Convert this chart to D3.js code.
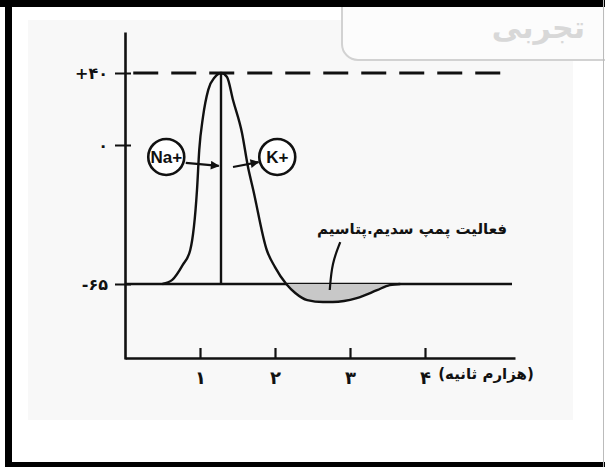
<!DOCTYPE html>
<html><head><meta charset="utf-8">
<script src="https://cdn.jsdelivr.net/npm/d3@7"></script>
<style>body{margin:0;background:#fff}svg{display:block}</style>
</head><body>
<script>
// ---- data ----
const timeMs   = [0.5, 0.63, 0.77, 0.87, 0.96, 0.99, 1.04, 1.11, 1.2, 1.28, 1.36, 1.44, 1.56, 1.64, 1.71, 1.89, 2.0, 2.15, 2.27, 2.43, 2.64, 2.77, 3.09, 3.36, 3.53, 3.67];
const voltage  = [-65, -63.1, -56.1, -49.1, -21, -2.3, 15.6, 30.6, 37.8, 40, 37.8, 25, 6.7, -10.3, -21, -49.1, -57.1, -65, -69.2, -72.5, -73.4, -73.4, -71.6, -67.9, -65.5, -65];
const xTicks = [1, 2, 3, 4];
const xTickLabels = ["۱", "۲", "۳", "۴"];
const yTicks = [40, 0, -65];
const yTickLabels = ["+۴۰", "۰", "-۶۵"];
const restingPotential = -65;
const peakPotential = 40;
const peakTime = 1.28;
const xUnitLabel = "(هزارم ثانیه)";
const pumpLabel = "فعالیت پمپ سدیم.پتاسیم";
const pumpPointerT = [2.87, 2.76, 2.73];
const pumpPointerV = [-45.4, -55.2, -67.8];
const ionNames = ["Na+", "K+"];
const ionT = [0.55, 2.03];
const ionV = [-5.6, -5.6];
const arrowT0 = [0.81, 1.44], arrowT1 = [1.25, 1.78];
const arrowV0 = [-8.4, -10.3], arrowV1 = [-9.8, -8.0];
const watermarkText = "تجربی";

const W = 605, H = 467;
const svg = d3.select("body").append("svg").attr("width", W).attr("height", H);

// scanned page look & frame
svg.append("rect").attr("x", 28).attr("y", 20).attr("width", 545).attr("height", 400).attr("fill", "#f8f8f8");
const wm = svg.append("g");
wm.append("rect").attr("x", 342).attr("y", -30).attr("width", 300).attr("height", 90).attr("rx", 16)
  .attr("fill", "#fcfcfc").attr("stroke", "#d2d2d2").attr("stroke-width", 2);
wm.append("text").attr("x", 585).attr("y", 38).attr("text-anchor", "end")
  .attr("font-family", "DejaVu Sans").attr("font-weight", "bold").attr("font-size", 30)
  .attr("fill", "#d8d8d8").text(watermarkText);
svg.append("rect").attr("x", 0).attr("y", 0).attr("width", W).attr("height", 7).attr("fill", "#000");
svg.append("rect").attr("x", 5).attr("y", 0).attr("width", 7).attr("height", H).attr("fill", "#000");
svg.append("rect").attr("x", 5).attr("y", 462).attr("width", 600).attr("height", 5).attr("fill", "#000");
svg.append("line").attr("x1", 603.5).attr("x2", 603.5).attr("y1", 0).attr("y2", H).attr("stroke", "#bbb");

// ---- scales ----
const x = d3.scaleLinear().domain([0, 5.2]).range([125, 515]);
const y = d3.scaleLinear().domain([-100, -65, 0, 40, 62.5]).range([359, 284, 145, 73, 32]);

const ink = "#111";
const persian = "DejaVu Sans";

// axes
const xAxis = d3.axisBottom(x).tickValues(xTicks).tickFormat((d, i) => xTickLabels[i])
  .tickSizeInner(-10).tickSizeOuter(0).tickPadding(13);
const gx = svg.append("g").attr("transform", `translate(0,${y(-100) - 1})`).call(xAxis);
gx.select(".domain").attr("stroke", ink).attr("stroke-width", 2.6);
gx.selectAll(".tick line").attr("stroke", ink).attr("stroke-width", 2.2);
gx.selectAll(".tick text").attr("font-family", persian).attr("font-weight", "bold")
  .attr("font-size", 18).attr("fill", ink);

const yAxis = d3.axisLeft(y).tickValues(yTicks).tickFormat((d, i) => yTickLabels[i])
  .tickSizeInner(10).tickSizeOuter(0).tickPadding(7);
const gy = svg.append("g").attr("transform", `translate(${x(0)},0)`).call(yAxis);
gy.select(".domain").attr("stroke", ink).attr("stroke-width", 2.6);
gy.selectAll(".tick line").attr("stroke", ink).attr("stroke-width", 2).attr("x1", 6).attr("x2", -10);
gy.selectAll(".tick text").attr("font-family", persian).attr("font-weight", "bold")
  .attr("font-size", 16).attr("fill", ink).style("direction", "ltr").style("unicode-bidi", "embed");

// unit label (explicit right-to-left embedding)
svg.append("text").attr("x", 486).attr("y", 379).attr("text-anchor", "middle")
  .attr("font-family", persian).attr("font-weight", "bold").attr("font-size", 15).attr("fill", ink)
  .text("\u202B" + xUnitLabel + "\u202C");

// dashed peak line
svg.append("line").attr("x1", x(0.11)).attr("x2", x(5.16)).attr("y1", y(peakPotential)).attr("y2", y(peakPotential))
  .attr("stroke", ink).attr("stroke-width", 3).attr("stroke-dasharray", "25,13");
// resting line
svg.append("line").attr("x1", x(0)).attr("x2", x(5.16)).attr("y1", y(restingPotential)).attr("y2", y(restingPotential))
  .attr("stroke", ink).attr("stroke-width", 2.4);

// shaded hyperpolarisation
const pts = timeMs.map((t, i) => ({t, v: voltage[i]}));
const under = pts.filter(p => p.t >= 2.15);
svg.append("path").datum(under)
  .attr("d", d3.area().x(d => x(d.t)).y0(y(restingPotential)).y1(d => y(d.v)).curve(d3.curveMonotoneX))
  .attr("fill", "#c8c8c8");

// peak vertical line
svg.append("line").attr("x1", x(peakTime)).attr("x2", x(peakTime)).attr("y1", y(peakPotential)).attr("y2", y(restingPotential))
  .attr("stroke", ink).attr("stroke-width", 2.4);

// action potential curve
svg.append("path").datum(pts)
  .attr("d", d3.line().x(d => x(d.t)).y(d => y(d.v)).curve(d3.curveMonotoneX))
  .attr("fill", "none").attr("stroke", ink).attr("stroke-width", 2.4);

// pump pointer
svg.append("path").datum(pumpPointerT.map((t, i) => ({t, v: pumpPointerV[i]})))
  .attr("d", d3.line().x(d => x(d.t)).y(d => y(d.v)).curve(d3.curveBasis))
  .attr("fill", "none").attr("stroke", ink).attr("stroke-width", 2.2);
svg.append("text").attr("x", 412).attr("y", 234).attr("text-anchor", "middle")
  .attr("font-family", persian).attr("font-weight", "bold").attr("font-size", 15).attr("fill", ink)
  .attr("direction", "rtl").text(pumpLabel);

// arrows
const defs = svg.append("defs");
defs.append("marker").attr("id", "ah").attr("viewBox", "0 0 10 10").attr("refX", 9).attr("refY", 5)
  .attr("markerWidth", 5).attr("markerHeight", 4).attr("markerUnits", "strokeWidth").attr("orient", "auto")
  .append("path").attr("d", "M0,0L10,5L0,10Z").attr("fill", ink);
ionNames.forEach((n, i) => {
  svg.append("line").attr("x1", x(arrowT0[i])).attr("y1", y(arrowV0[i]))
    .attr("x2", x(arrowT1[i])).attr("y2", y(arrowV1[i]))
    .attr("stroke", ink).attr("stroke-width", 2.2).attr("marker-end", "url(#ah)");
  svg.append("circle").attr("cx", x(ionT[i])).attr("cy", y(ionV[i])).attr("r", 18)
    .attr("fill", "#fff").attr("stroke", ink).attr("stroke-width", 2.6);
  svg.append("text").attr("x", x(ionT[i])).attr("y", y(ionV[i]) + 6).attr("text-anchor", "middle")
    .attr("font-family", "Liberation Sans, Arial").attr("font-weight", "bold").attr("font-size", 17)
    .attr("fill", ink).attr("direction", "ltr").text(n);
});
</script>
</body></html>
